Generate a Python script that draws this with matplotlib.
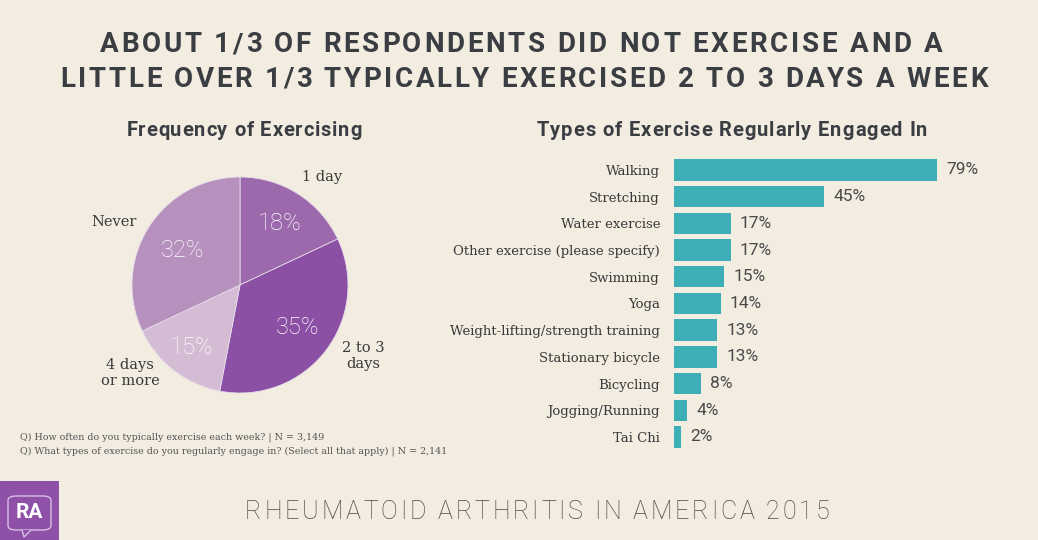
import matplotlib.pyplot as plt
from matplotlib.patches import Rectangle, FancyBboxPatch, Polygon
from matplotlib.font_manager import FontProperties, findfont
from matplotlib.ft2font import FT2Font

# data
pie_labels = ["1 day", "2 to 3\ndays", "4 days\nor more", "Never"]
pie_values = [18, 35, 15, 32]
pie_colors = ["#9c6aac", "#8b4fa3", "#d3bcd4", "#b691bd"]

exercise_types = ["Walking", "Stretching", "Water exercise", "Other exercise (please specify)",
                  "Swimming", "Yoga", "Weight-lifting/strength training", "Stationary bicycle",
                  "Bicycling", "Jogging/Running", "Tai Chi"]
exercise_pct = [79, 45, 17, 17, 15, 14, 13, 13, 8, 4, 2]

bg = "#f2ece1"
dark = "#3a3d42"
teal = "#3daeb5"
W, H = 1038, 540

fig = plt.figure(figsize=(W / 100, H / 100), dpi=100, facecolor=bg)


def tracked_text(cx, base_y, s, size, weight, track, color):
    # letter-spaced text, centred on cx (pixels), baseline at base_y (pixels from top)
    fp = FontProperties(family="Roboto", weight=weight, size=size)
    font = FT2Font(findfont(fp))
    font.set_size(size, 100)
    advs = [font.load_char(ord(c)).linearHoriAdvance / 65536 for c in s]
    total = sum(advs) + track * (len(s) - 1)
    x = cx - total / 2
    for c, a in zip(s, advs):
        if c != " ":
            fig.text(x / W, 1 - base_y / H, c, fontproperties=fp, color=color,
                     ha="left", va="baseline")
        x += a + track


# title
tracked_text(521, 52, "ABOUT 1/3 OF RESPONDENTS DID NOT EXERCISE AND A", 20, "bold", 2.7, dark)
tracked_text(524, 87, "LITTLE OVER 1/3 TYPICALLY EXERCISED 2 TO 3 DAYS A WEEK", 20, "bold", 2.6, dark)

# sub titles
tracked_text(244, 136, "Frequency of Exercising", 14.5, "bold", 0.8, dark)
tracked_text(732, 136, "Types of Exercise Regularly Engaged In", 14.5, "bold", 0.9, dark)

# pie
r = 108
cx, cy = 240, 285
ax_pie = fig.add_axes([(cx - r) / W, 1 - (cy + r) / H, 2 * r / W, 2 * r / H])
ax_pie.pie(pie_values, colors=pie_colors, startangle=90, counterclock=False,
           radius=1, wedgeprops=dict(linewidth=0.6, edgecolor="#e6dcea"))
ax_pie.set_xlim(-1, 1)
ax_pie.set_ylim(-1, 1)
ax_pie.set_aspect("equal")

pct_pos = [(280, 223), (298, 328), (192, 347), (183, 250)]
for v, (px, py) in zip(pie_values, pct_pos):
    fig.text(px / W, 1 - py / H, f"{v}%", ha="center", va="center", fontsize=17,
             fontweight="light", family="Roboto", color="white")

lab_pos = [(322, 177), (363, 356), (130, 373), (114, 222)]
for lab, (px, py) in zip(pie_labels, lab_pos):
    fig.text(px / W, 1 - py / H, lab, ha="center", va="center", fontsize=10.5,
             family="DejaVu Serif", color="#3a3a3a", linespacing=1.1)

# bars
ax = fig.add_axes([674 / W, 1 - 450.3 / H, 333 / W, 293.7 / H])
ax.set_facecolor("none")
ypos = list(range(len(exercise_types)))
ax.barh(ypos, exercise_pct, height=0.8, color=teal)
ax.set_xlim(0, 100)
ax.set_ylim(len(exercise_types) - 0.5, -0.5)
for y, v in zip(ypos, exercise_pct):
    ax.text(v + 2.8, y, f"{v}%", ha="left", va="center", fontsize=12.5,
            family="Roboto", color="#4a4a4a")
ax.set_yticks(ypos)
ax.set_yticklabels(exercise_types, family="DejaVu Serif", fontsize=9.5, color="#3a3a3a")
ax.tick_params(axis="y", length=0, pad=10)
ax.set_xticks([])
for s in ax.spines.values():
    s.set_visible(False)

# footnotes
fig.text(20 / W, 1 - 437 / H, "Q) How often do you typically exercise each week? | N = 3,149",
         ha="left", va="center", fontsize=6.8, family="DejaVu Serif", color="#555555")
fig.text(20 / W, 1 - 451 / H,
         "Q) What types of exercise do you regularly engage in? (Select all that apply) | N = 2,141",
         ha="left", va="center", fontsize=6.8, family="DejaVu Serif", color="#555555")

# bottom banner
tracked_text(537, 519, "RHEUMATOID ARTHRITIS IN AMERICA 2015", 18, "light", 2.8, "#4a4a4a")

# logo
fig.patches.append(Rectangle((0, 0), 59 / W, 59 / H, transform=fig.transFigure,
                             facecolor="#8f50a8", edgecolor="none"))
fig.patches.append(FancyBboxPatch((8 / W, 1 - 530 / H), 43 / W, 34 / H,
                                  boxstyle="round,pad=0,rounding_size=0.008",
                                  transform=fig.transFigure, facecolor="none",
                                  edgecolor="#d8bfe3", linewidth=1))
fig.patches.append(Polygon([(22 / W, 1 - 530 / H), (24 / W, 1 - 537 / H), (31 / W, 1 - 530 / H)],
                           closed=False, transform=fig.transFigure, facecolor="#8f50a8",
                           edgecolor="#d8bfe3", linewidth=1))
fig.text(29.5 / W, 1 - 512 / H, "RA", ha="center", va="center", fontsize=15,
         fontweight="bold", family="Roboto", color="white")

fig.savefig("out.png", dpi=100, facecolor=bg)
plt.close(fig)
